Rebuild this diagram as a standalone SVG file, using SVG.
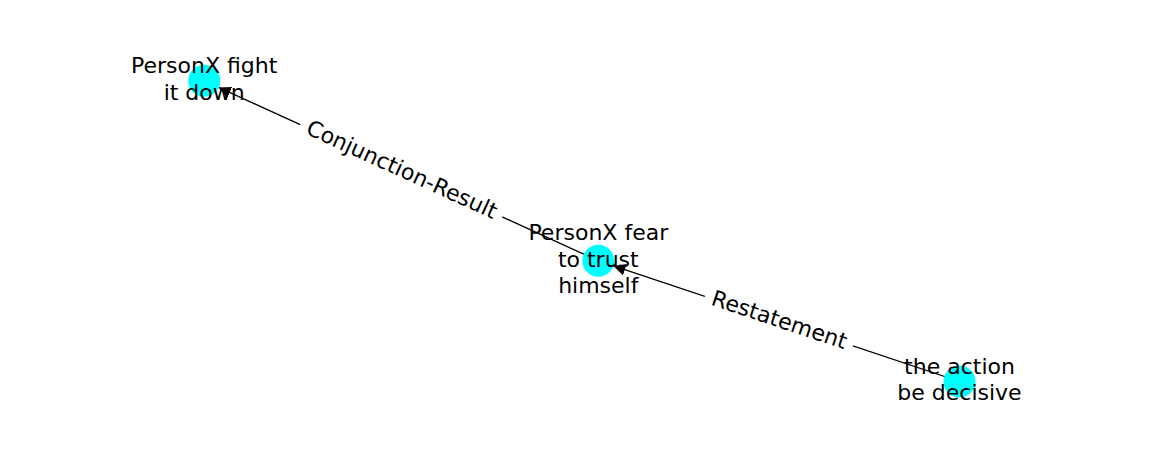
<svg xmlns="http://www.w3.org/2000/svg" width="1162" height="462" viewBox="0 0 1162 462">
<style>
.edge{stroke:#000;stroke-width:1.3;fill:none}
.node{fill:#00ffff}
.lbl{font-family:"DejaVu Sans",sans-serif;font-size:22px;fill:#000;text-anchor:middle}
.ebox{fill:#fff;stroke:#fff}
</style>
<defs>
<marker id="arr" viewBox="0 0 12 12" refX="12" refY="6" markerWidth="12" markerHeight="12" markerUnits="userSpaceOnUse" orient="auto">
<path d="M0,0 L12,6 L0,12 z" fill="#000"/>
</marker>
</defs>
<rect width="1162" height="462" fill="#fff"/>
<g id="edges">
<line class="edge" x1="598.3" y1="260.8" x2="218.75" y2="87.45" marker-end="url(#arr)"/>
<line class="edge" x1="959.5" y1="381.5" x2="613.5" y2="265.9" marker-end="url(#arr)"/>
<g transform="translate(401.25,170.8) rotate(24.55)">
<rect class="ebox" x="-110.5" y="-17.5" width="221" height="35" rx="6"/>
<text class="lbl" x="0" y="6">Conjunction-Result</text>
</g>
<g transform="translate(778.9,321.15) rotate(18.48)">
<rect class="ebox" x="-77.5" y="-17.5" width="155" height="35" rx="6"/>
<text class="lbl" x="0" y="6">Restatement</text>
</g>
</g>
<g id="node-fight">
<circle class="node" cx="204.2" cy="80.8" r="16"/>
<text class="lbl" x="204.2" y="73.35">PersonX fight</text>
<text class="lbl" x="204.2" y="99.75">it down</text>
</g>
<g id="node-fear">
<circle class="node" cx="598.3" cy="260.8" r="16"/>
<text class="lbl" x="598.3" y="240.15">PersonX fear</text>
<text class="lbl" x="598.3" y="266.55">to trust</text>
<text class="lbl" x="598.3" y="292.95">himself</text>
</g>
<g id="node-action">
<circle class="node" cx="959.5" cy="381.5" r="16"/>
<text class="lbl" x="959.5" y="374.05">the action</text>
<text class="lbl" x="959.5" y="400.45">be decisive</text>
</g>
</svg>
